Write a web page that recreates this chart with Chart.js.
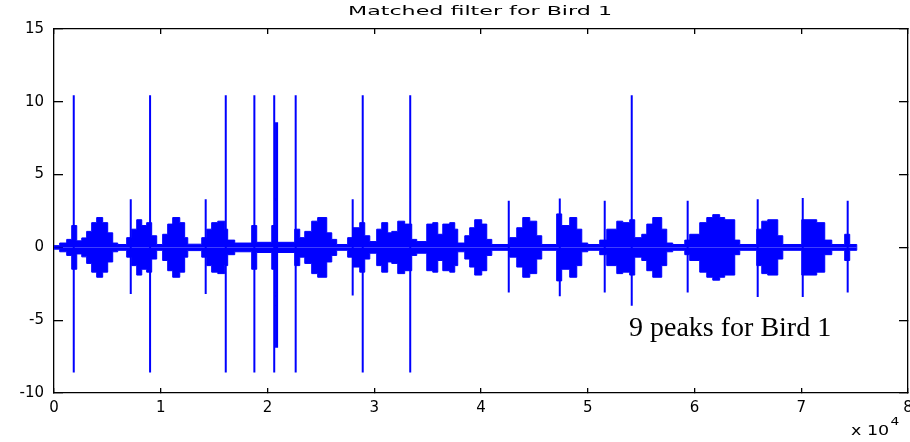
<!DOCTYPE html>
<html>
<head>
<meta charset="utf-8">
<title>Matched filter for Bird 1</title>
<script src="https://cdn.jsdelivr.net/npm/chart.js@4.4.1/dist/chart.umd.min.js"></script>
<style>
  html, body { margin: 0; padding: 0; background: #fff; }
  #wrap { width: 910px; height: 442px; }
</style>
</head>
<body>
<div id="wrap"><canvas id="chart" width="910" height="442"></canvas></div>
<script>
// ── Data ───────────────────────────────────────────────────────────────────
// Envelope of the filter output: each sample index starts a step that holds
// the amplitude (±) until the next index.
const envX = [
  0, 530, 1190, 1660, 2130, 2600, 3060, 3530, 4000, 4560,
  5030, 5500, 5970, 6810, 7280, 7750, 8220, 8680, 9150, 9620,
  10180, 10650, 11120, 11780, 12240, 12530, 13840, 14310, 14770, 15340,
  15990, 16270, 16930, 18520, 18990, 20400, 20860, 22550, 23020, 23490,
  24140, 24700, 25550, 26020, 26480, 27510, 27980, 28640, 29110, 29580,
  30230, 30700, 31260, 31640, 32200, 32850, 33510, 33980, 34920, 35480,
  35950, 36420, 37070, 37540, 37820, 38480, 38940, 39410, 40070, 40540,
  41010, 42690, 43350, 43910, 44570, 45220, 45690, 47090, 47560, 48310,
  48970, 49440, 50000, 51120, 51780, 52720, 53280, 53930, 54400, 55060,
  55530, 56090, 56930, 57400, 57960, 59090, 59550, 60490, 61150, 61710,
  62360, 62830, 63770, 64240, 65830, 66300, 66860, 67800, 68270, 70050,
  71450, 72200, 72860, 74070, 74540, 75200,
];
const envAmp = [
  0.12, 0.3, 0.55, 1.5, 0.45, 0.65, 1.1, 1.7, 2.05, 1.7,
  1.0, 0.3, 0.2, 0.67, 1.25, 1.9, 1.5, 1.7, 0.8, 0.2,
  0.9, 1.6, 2.05, 1.7, 0.67, 0.22, 0.67, 1.25, 1.7, 1.8,
  1.25, 0.5, 0.3, 1.5, 0.35, 1.5, 0.35, 1.25, 0.67, 1.1,
  1.8, 2.05, 1.0, 0.55, 0.2, 0.67, 1.35, 1.7, 0.8, 0.4,
  1.25, 1.7, 1.0, 1.1, 1.8, 1.6, 0.55, 0.4, 1.6, 1.7,
  0.9, 1.6, 1.7, 1.25, 0.3, 0.8, 1.35, 1.9, 1.6, 0.55,
  0.2, 0.67, 1.35, 2.05, 1.8, 0.8, 0.2, 2.3, 1.5, 2.05,
  1.25, 0.3, 0.2, 0.5, 1.25, 1.8, 1.7, 1.9, 0.67, 0.9,
  1.6, 2.05, 1.25, 0.3, 0.2, 0.5, 0.9, 1.7, 2.05, 2.25,
  2.05, 1.9, 0.5, 0.2, 1.25, 1.8, 1.9, 0.8, 0.2, 1.9,
  1.7, 0.5, 0.2, 0.9, 0.2, 0,
];

// Isolated spikes (the matched-filter peaks and the smaller side spikes)
const spikeX   = [1850, 7190, 9000, 14210, 16090, 18770, 20630, 20820, 20900, 22640,
                  27980, 28920, 33370, 42600, 47380, 51590, 54120, 59360, 65920, 70140, 74350];
const spikeTop = [10.45, 3.3, 10.45, 3.3, 10.45, 10.45, 10.45, 8.6, 8.6, 10.45,
                  3.3, 10.45, 10.45, 3.2, 3.35, 3.2, 10.45, 3.2, 3.3, 3.4, 3.2];
const spikeLow = [-8.6, -3.2, -8.6, -3.2, -8.6, -8.6, -8.6, -6.9, -6.9, -8.6,
                  -3.3, -8.6, -8.6, -3.1, -3.35, -3.1, -4.0, -3.1, -3.4, -3.4, -3.1];

const xTicks = [0, 1, 2, 3, 4, 5, 6, 7, 8];      // × 10^4
const yTicks = [-10, -5, 0, 5, 10, 15];

const BLUE = "#0000ff";
const AXIS_W = 1.3;

// ── Build datasets ─────────────────────────────────────────────────────────
const upper = envX.map((x, i) => ({ x, y: envAmp[i] }));
const lower = envX.map((x, i) => ({ x, y: -envAmp[i] }));

const spikes = [];
spikeX.forEach((x, i) => {
  spikes.push({ x, y: spikeTop[i] }, { x, y: spikeLow[i] }, { x, y: null });
});

// ── Text: title, exponent and note ─────────────────────────────────────────
const labels = {
  id: "labels",
  afterDraw(chart) {
    const ctx = chart.ctx;
    ctx.save();
    ctx.fillStyle = "#000";
    ctx.textBaseline = "middle";

    // title, stretched wide like the rest of the axes text
    ctx.save();
    ctx.font = "13px 'DejaVu Sans'";
    const title = "Matched filter for Bird 1";
    const tw = ctx.measureText(title).width;
    ctx.translate(480, 12);
    ctx.scale(264 / tw, 1);
    ctx.textAlign = "center";
    ctx.fillText(title, 0, 0);
    ctx.restore();

    // x exponent
    ctx.save();
    ctx.font = "14px 'DejaVu Sans'";
    ctx.translate(851, 431);
    ctx.scale(1.25, 1);
    ctx.textAlign = "left";
    ctx.fillText("x 10", 0, 0);
    const ew = ctx.measureText("x 10").width;
    ctx.font = "11px 'DejaVu Sans'";
    ctx.fillText("4", ew + 1, -9);
    ctx.restore();

    // note
    ctx.font = "28px 'Liberation Serif'";
    ctx.textBaseline = "alphabetic";
    ctx.textAlign = "left";
    ctx.fillText("9 peaks for Bird 1", 629, 336);
    ctx.restore();
  },
};

// ── Axes: a closed box with inward ticks on all four sides ────────────────
const tickFont = { family: "DejaVu Sans", size: 15 };

function boxAxis(position, ticks, tickLen, extra) {
  const horizontal = position === "top" || position === "bottom";
  return Object.assign({
    type: "linear",
    position,
    afterBuildTicks(scale) { scale.ticks = ticks.map((v) => ({ value: v })); },
    grid: {
      display: true, drawOnChartArea: false, drawTicks: true, tickLength: -tickLen,
      color: "#000", lineWidth: AXIS_W, tickColor: "#000", tickWidth: AXIS_W,
    },
    border: { display: true, color: "#000", width: AXIS_W },
    ticks: { display: false },
    afterFit(scale) {
      if (horizontal) { scale.height = 0; scale.paddingLeft = 0; scale.paddingRight = 0; }
      else { scale.width = 0; scale.paddingTop = 0; scale.paddingBottom = 0; }
    },
  }, extra);
}

const xValues = xTicks.map((v) => v * 1e4);

new Chart(document.getElementById("chart").getContext("2d"), {
  type: "line",
  data: {
    datasets: [
      {
        data: upper, stepped: true, borderColor: BLUE, backgroundColor: BLUE,
        borderWidth: 1, pointRadius: 0, fill: "origin",
      },
      {
        data: lower, stepped: true, borderColor: BLUE, backgroundColor: BLUE,
        borderWidth: 1, pointRadius: 0, fill: "origin",
      },
      {
        data: spikes, borderColor: BLUE, borderWidth: 2, pointRadius: 0,
        spanGaps: false, fill: false,
      },
    ],
  },
  options: {
    responsive: false,
    animation: false,
    events: [],
    layout: { padding: { top: 29, right: 2, left: 0, bottom: 0 } },
    plugins: { legend: { display: false }, tooltip: { enabled: false }, title: { display: false } },
    scales: {
      x: boxAxis("bottom", xValues, 5, {
        min: 0, max: 80000,
        ticks: { display: true, color: "#000", font: tickFont, padding: 11, maxRotation: 0,
                 callback: (v) => String(v / 1e4) },
        afterFit(scale) { scale.height = 49; scale.paddingLeft = 0; scale.paddingRight = 0; },
      }),
      xTop: boxAxis("top", xValues, 5, { min: 0, max: 80000 }),
      y: boxAxis("left", yTicks, 9, {
        min: -10, max: 15,
        ticks: { display: true, color: "#000", font: tickFont, padding: 19 },
        afterFit(scale) { scale.width = 54; scale.paddingTop = 0; scale.paddingBottom = 0; },
      }),
      yRight: boxAxis("right", yTicks, 9, { min: -10, max: 15 }),
    },
  },
  plugins: [labels],
});
</script>
</body>
</html>
